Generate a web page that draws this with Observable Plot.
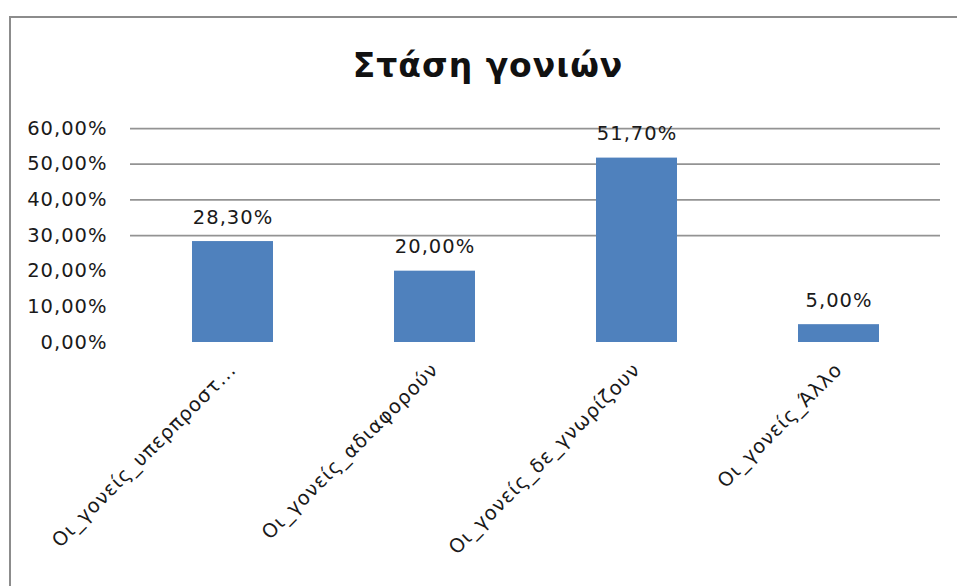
<!DOCTYPE html>
<html>
<head>
<meta charset="utf-8">
<script src="https://cdn.jsdelivr.net/npm/d3@7"></script>
<script src="https://cdn.jsdelivr.net/npm/@observablehq/plot@0.6"></script>
<style>
  html, body { margin: 0; padding: 0; background: #fff; overflow: hidden; }
  #wrap { position: relative; width: 957px; height: 586px; }
  #wrap svg { position: absolute; left: 0; top: 0; }
  #frame { position: absolute; left: 9px; top: 16px; width: 980px; height: 600px;
           border-left: 2px solid #8c8c8c; border-top: 2px solid #8c8c8c; box-sizing: border-box; pointer-events: none; }
  #title { position: absolute; left: 0; top: 49px; width: 976px; text-align: center; letter-spacing: 1px;
           font-family: "DejaVu Sans", sans-serif; font-weight: bold; font-size: 33px; line-height: 33px; color: #111; }
</style>
</head>
<body>
<div id="wrap"></div>
<script>
const title = "Στάση γονιών";
const categories = ["Οι_γονείς_υπερπροστ...", "Οι_γονείς_αδιαφορούν", "Οι_γονείς_δε_γνωρίζουν", "Οι_γονείς_Άλλο"];
const values = [28.3, 20.0, 51.7, 5.0];
const yTicks = [0, 10, 20, 30, 40, 50, 60];
const gridTicks = [30, 40, 50, 60];

const fmt = v => v.toFixed(2).replace(".", ",") + "%";
const data = categories.map((c, i) => ({cat: c, value: values[i]}));

const chart = Plot.plot({
  width: 957,
  height: 586,
  marginLeft: 130,
  marginRight: 17,
  marginTop: 128,
  marginBottom: 244,
  style: {fontFamily: "DejaVu Sans, sans-serif", fontSize: "19.5px", background: "transparent", color: "#1a1a1a", letterSpacing: "1px"},
  x: {domain: categories, paddingInner: 0.6, paddingOuter: 0.3, label: null, tickSize: 0, tickRotate: -45, tickPadding: 24},
  y: {domain: [0, 60], label: null, ticks: yTicks, tickFormat: fmt, tickSize: 0, tickPadding: 23},
  marks: [
    Plot.ruleY(gridTicks, {stroke: "#939393", strokeWidth: 1.75}),
    Plot.barY(data, {x: "cat", y: "value", fill: "#4f81bd"}),
    Plot.text(data, {x: "cat", y: "value", text: d => fmt(d.value), lineAnchor: "bottom", dy: -18, fill: "#1a1a1a"})
  ]
});

const wrap = document.getElementById("wrap");
wrap.appendChild(chart);
const t = document.createElement("div");
t.id = "title";
t.textContent = title;
wrap.appendChild(t);
const f = document.createElement("div");
f.id = "frame";
wrap.appendChild(f);
</script>
</body>
</html>
